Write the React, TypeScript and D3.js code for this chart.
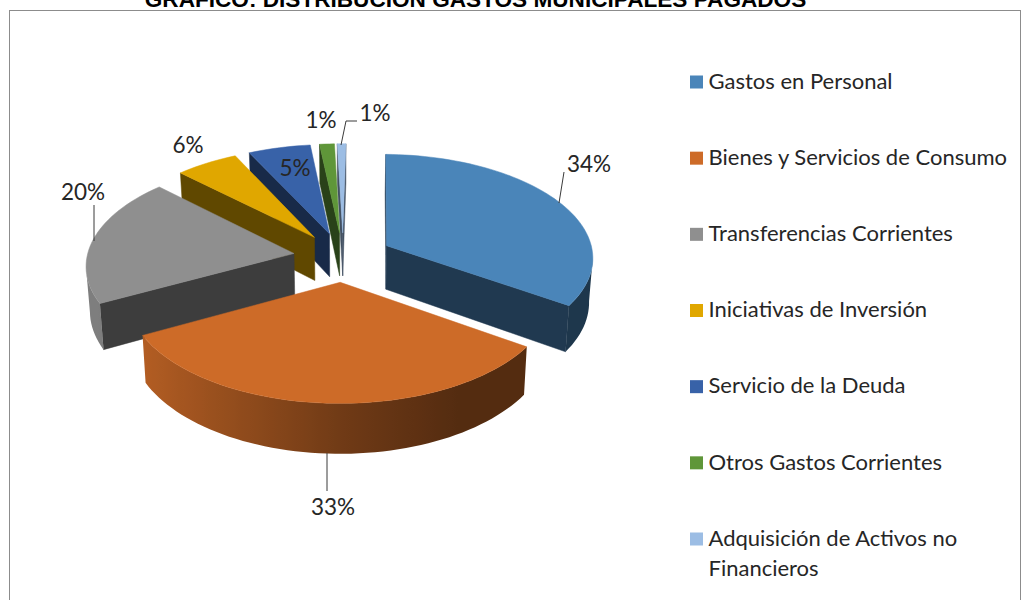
import React from "react";
import * as d3 from "d3";

const categories = [
  ["Gastos en Personal"],
  ["Bienes y Servicios de Consumo"],
  ["Transferencias Corrientes"],
  ["Iniciativas de Inversión"],
  ["Servicio de la Deuda"],
  ["Otros Gastos Corrientes"],
  ["Adquisición de Activos no", "Financieros"],
];
const values = [34.2, 32.8, 20, 5.5, 5.45, 1.3, 0.75];
const colors = ["#4A85B9", "#CD6B28", "#8F8F8F", "#E0A700", "#3862A8", "#5F9639", "#9CBDE4"];
const titleText = "GRÁFICO: DISTRIBUCIÓN GASTOS MUNICIPALES PAGADOS";

const W = 1023, H = 600;
const FONT = "Lato, 'Open Sans', sans-serif";
const cx = 343, cy = 257, B = 207, A = 103, K = 0.103, EXPLODE = 0.24, DEPTH = 44;
const ROT = Math.PI / 180;

type Pt = [number, number];
const project = (wx: number, wy: number, h: number): Pt => {
  const s = 1 / (1 + K * wy);
  return [cx + B * wx * s * (1 - 0.015 * h), cy - A * wy * s + DEPTH * h * s];
};

const line = d3.line<Pt>();
const shade = d3.scaleLinear([-0.9, 0, 0.5], [0.88, 0.55, 0.41]).clamp(true);
const scaleColor = (c: string, f: number) => {
  const q = d3.rgb(c);
  return d3.rgb(q.r * f, q.g * f, q.b * f).formatHex();
};

const arcs = d3.pie<number>().sort(null).startAngle(ROT).endAngle(2 * Math.PI + ROT)(values).map((a, i) => {
  const mid = (a.startAngle + a.endAngle) / 2;
  const ox = EXPLODE * Math.sin(mid), oy = EXPLODE * Math.cos(mid);
  const n = Math.max(2, Math.ceil(((a.endAngle - a.startAngle) * 180) / Math.PI / 2));
  const angles = d3.range(n + 1).map((j) => a.startAngle + ((a.endAngle - a.startAngle) * j) / n);
  const rim = angles.map((t) => [ox + Math.sin(t), oy + Math.cos(t)] as Pt);
  return { i, mid, ox, oy, angles, rim };
});
const order = [...arcs].sort((p, q) => d3.descending(Math.cos(p.mid), Math.cos(q.mid)));

function Slice({ s }: { s: (typeof arcs)[number] }) {
  const color = colors[s.i];
  const apex: Pt = [s.ox, s.oy];
  const outline = [apex, ...s.rim];
  const top = outline.map((p) => project(p[0], p[1], 0));
  const bottom = outline.map((p) => project(p[0], p[1], 1));
  const radial = scaleColor(color, 0.43);
  const radialWall = (a: number, b: number, key: string) => {
    if (top[b][0] >= top[a][0]) return null;
    const d = line([top[a], top[b], bottom[b], bottom[a]]) + "Z";
    return <path key={key} d={d} fill={radial} stroke={radial} strokeWidth={0.5} />;
  };
  const visible = d3.range(1, outline.length).filter(
    (j) =>
      (j < outline.length - 1 && top[j + 1][0] < top[j][0]) ||
      (j > 1 && top[j][0] < top[j - 1][0])
  );
  let rimWall: React.ReactNode = null;
  let gradient: React.ReactNode = null;
  if (visible.length > 1) {
    const id = `rim${s.i}`;
    const x1 = top[visible[0]][0];
    const x2 = top[visible[visible.length - 1]][0];
    const pts = [...visible.map((j) => top[j]), ...visible.slice().reverse().map((j) => bottom[j])];
    gradient = (
      <linearGradient id={id} gradientUnits="userSpaceOnUse" x1={x1} x2={x2} y1={0} y2={0}>
        {visible.map((j) => (
          <stop key={j} offset={(top[j][0] - x1) / (x2 - x1)} stopColor={scaleColor(color, shade(Math.sin(s.angles[j - 1])))} />
        ))}
      </linearGradient>
    );
    rimWall = <path d={line(pts) + "Z"} fill={`url(#${id})`} />;
  }
  return (
    <g>
      {gradient}
      {radialWall(0, 1, "start")}
      {radialWall(outline.length - 1, 0, "end")}
      {rimWall}
      <path d={line(top) + "Z"} fill={color} stroke={color} strokeWidth={0.5} strokeLinejoin="round" />
    </g>
  );
}

const dataLabels = [
  { x: 589, y: 164, leader: [[559, 203], [564, 172]] as Pt[] },
  { x: 333, y: 507, leader: [[327, 453], [327, 491]] as Pt[] },
  { x: 83, y: 192, leader: [[94, 241], [94, 205]] as Pt[] },
  { x: 188, y: 145, leader: null },
  { x: 295, y: 168, leader: null },
  { x: 321, y: 120, leader: null },
  { x: 375, y: 113, leader: [[341, 145], [346, 121], [357, 121]] as Pt[] },
];

const legendY = d3.scalePoint(d3.range(categories.length), [82, 539]);

export default function App() {
  return (
    <svg width={W} height={H} style={{ position: "absolute", left: 0, top: 0, background: "#fff" }}>
      <rect x={9.5} y={10.5} width={1011} height={620} fill="#fff" stroke="#8c8c8c" strokeWidth={1} />
      <text x={475.5} y={7} textAnchor="middle" fontFamily="'Liberation Sans', Arial, sans-serif" fontWeight={700} fontSize={22.6} fill="#000">
        {titleText}
      </text>
      {order.map((s) => <Slice key={s.i} s={s} />)}
      {dataLabels.map((l, i) => (
        <g key={i}>
          {l.leader && <path d={line(l.leader)!} fill="none" stroke="#3a3a3a" strokeWidth={1} />}
          <text x={l.x} y={l.y} dy="0.35em" textAnchor="middle" fontFamily={FONT} fontSize={22.5} fill="#262626">
            {Math.round(values[i])}%
          </text>
        </g>
      ))}
      {categories.map((lines, i) => {
        const y = legendY(i)!;
        return (
          <g key={i}>
            <rect x={690} y={y - 6.5} width={13} height={13} fill={colors[i]} />
            {lines.map((t, j) => (
              <text key={j} x={708.5} y={y - 1 + 30 * j} dy="0.35em" fontFamily={FONT} fontSize={22} fill="#262626">
                {t}
              </text>
            ))}
          </g>
        );
      })}
    </svg>
  );
}
